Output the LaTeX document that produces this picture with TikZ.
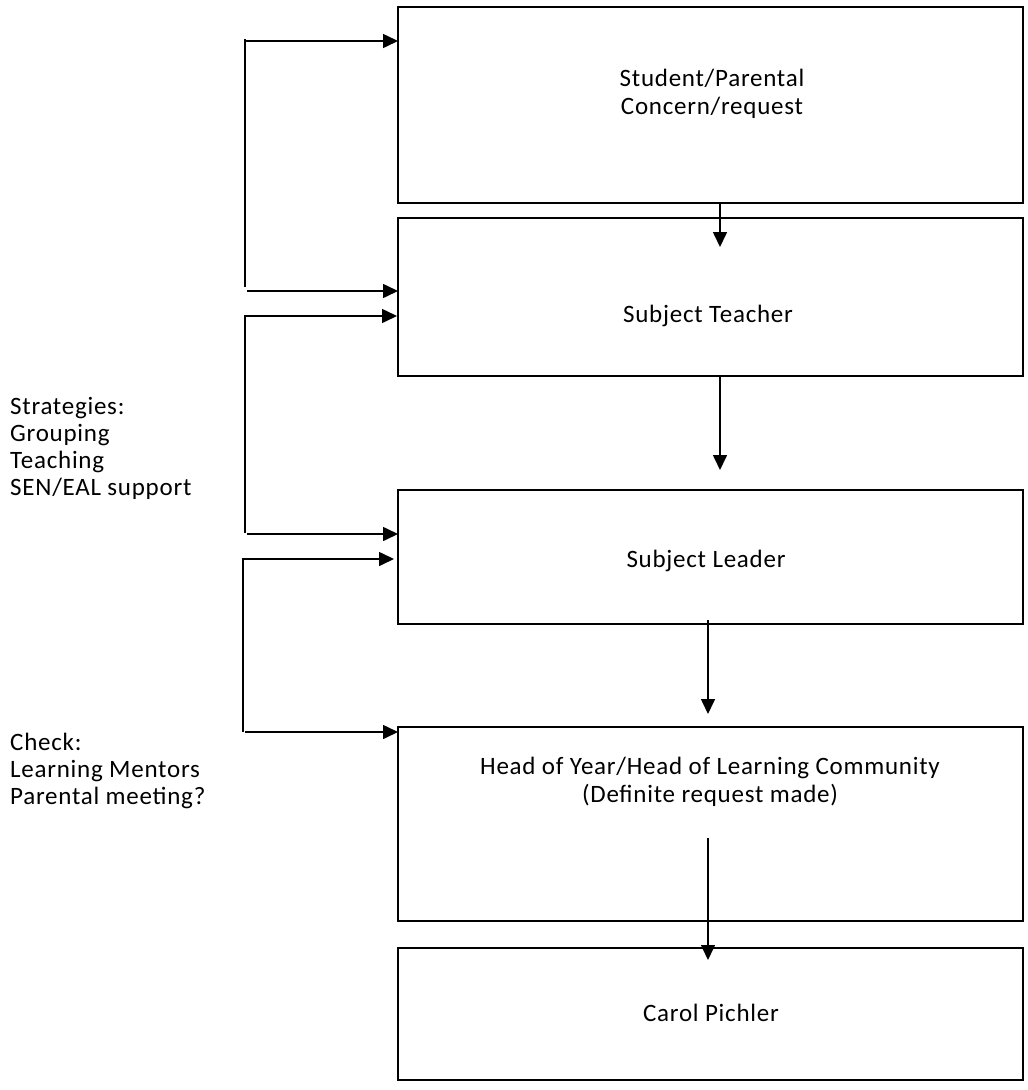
\documentclass[tikz,border=0pt]{standalone}
\usepackage{fontspec}
\setmainfont{Carlito}[LetterSpace=3]
\usetikzlibrary{arrows.meta,positioning}
\begin{document}
\begin{tikzpicture}[x=1pt,y=-1pt,
  box/.style={draw,line width=2pt,inner sep=0pt},
  lbl/.style={font=\fontsize{25}{28}\selectfont,align=center},
  side/.style={font=\fontsize{25}{27}\selectfont,align=left,anchor=north west,inner sep=0pt},
  conn/.style={line width=1.6pt,-{Triangle[length=15pt,width=14pt]}},
  plain/.style={line width=1.6pt}]
\useasboundingbox (0,0) rectangle (1028,1090);
% boxes
\draw[box] (398,7) rectangle (1023,203);
\node[lbl] (b1) at (712,94) {Student/Parental\\Concern/request};
\draw[box] (398,218) rectangle (1023,376);
\node[lbl] (b2) at (708,316) {Subject Teacher};
\draw[box] (398,490) rectangle (1023,624);
\node[lbl] (b3) at (706,561) {Subject Leader};
\draw[box] (398,727) rectangle (1023,921);
\node[lbl] (b4) at (710,782) {Head of Year/Head of Learning Community\\(Definite request made)};
\draw[box] (398,948) rectangle (1023,1080);
\node[lbl] (b5) at (711,1013) {Carol Pichler};
% vertical arrows
\coordinate (v1s) at (720,203); \coordinate (v1e) at (720,247);
\draw[conn] (v1s) -- (v1e);
\coordinate (v2s) at (720,376); \coordinate (v2e) at (720,470);
\draw[conn] (v2s) -- (v2e);
\coordinate (v3s) at (708,620); \coordinate (v3e) at (708,714);
\draw[conn] (v3s) -- (v3e);
\coordinate (v4s) at (708,838); \coordinate (v4e) at (708,960);
\draw[conn] (v4s) -- (v4e);
% brackets
\coordinate (a1) at (245,39); \coordinate (a2) at (245,287);
\draw[plain] (a1) -- (a2);
\coordinate (a1s) at (246,41); \coordinate (a1e) at (398,41);
\draw[conn] (a1s) -- (a1e);
\coordinate (a2s) at (247,291); \coordinate (a2e) at (398,291);
\draw[conn] (a2s) -- (a2e);
\coordinate (c1) at (245,316); \coordinate (c2) at (245,533);
\coordinate (c1e) at (397,316);
\draw[conn] (c2) -- (c1) -- (c1e);
\coordinate (c2s) at (247,534); \coordinate (c2e) at (398,534);
\draw[conn] (c2s) -- (c2e);
\coordinate (d1) at (243,559); \coordinate (d2) at (243,732);
\coordinate (d1e) at (394,559);
\draw[conn] (d2) -- (d1) -- (d1e);
\coordinate (d2s) at (245,732); \coordinate (d2e) at (398,732);
\draw[conn] (d2s) -- (d2e);
% side texts
\node[side] (s1) at (10,397) {Strategies:\\Grouping\\Teaching\\SEN/EAL support};
\node[side] (s2) at (10,733) {Check:\\Learning Mentors\\Parental meeting?};
\end{tikzpicture}
\end{document}
